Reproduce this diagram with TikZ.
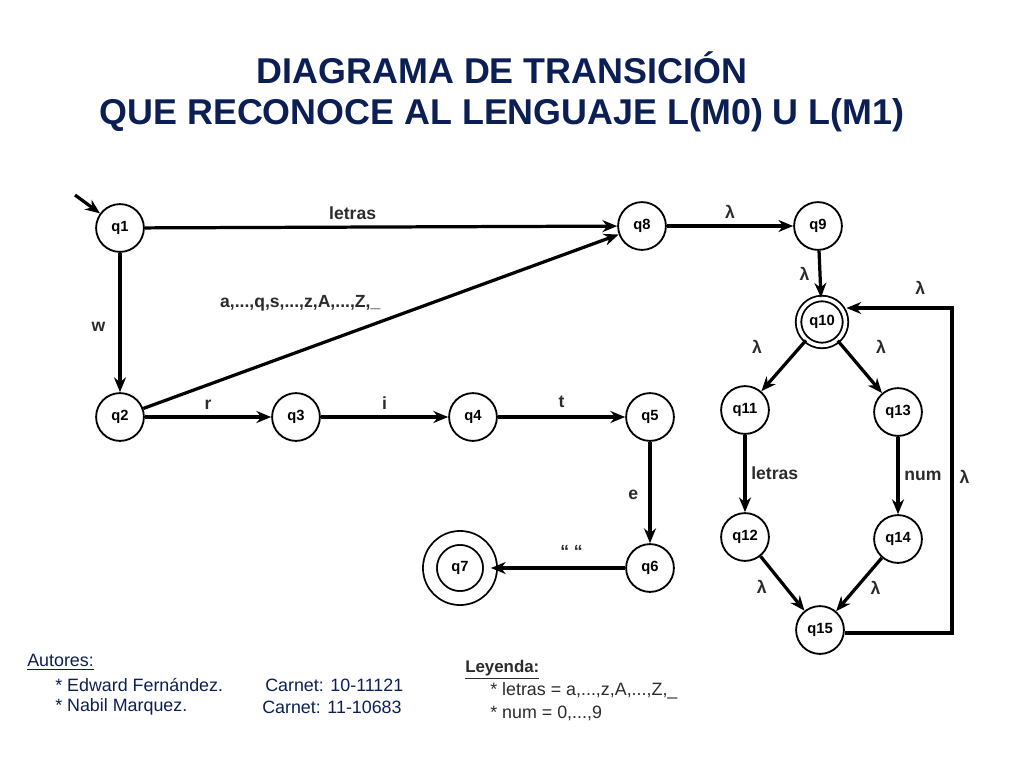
\documentclass[tikz,border=0pt]{standalone}
\usepackage{fontspec}
\setmainfont{Liberation Sans}
\usetikzlibrary{arrows.meta}
\definecolor{navy}{HTML}{0B1F55}
\definecolor{labelgray}{HTML}{2B2B2B}

\begin{document}
\begin{tikzpicture}[x=0.025cm, y=-0.025cm,
    state/.style={circle, draw, line width=1.3pt, minimum size=34pt, inner sep=0pt, font=\bfseries\fontsize{10.5}{12}\selectfont},
    final/.style={state, double, double distance=2.6pt, minimum size=33.4pt},
    bigfinal/.style={state, double, double distance=8.6pt, minimum size=42.7pt},
    trans/.style={line width=2.3pt, -{Stealth[length=10.5pt,width=8.5pt]}},
    lbl/.style={font=\bfseries\fontsize{12.5}{14}\selectfont, text=labelgray},
    txt/.style={anchor=west, inner sep=0pt, font=\fontsize{12.7}{15}\selectfont}]
    \useasboundingbox (0,0) rectangle (1024,768);

    % title
    \node[align=center, text=navy, font=\bfseries\fontsize{25.5}{29}\selectfont] (title) at (502,92)
        {DIAGRAMA DE TRANSICIÓN\\QUE RECONOCE AL LENGUAJE L(M0) U L(M1)};

    % states
    \node[state] (q1) at (120,228) {q1};
    \node[state] (q8) at (642,226) {q8};
    \node[state] (q9) at (818,226) {q9};
    \node[final] (q10) at (822,322) {q10};
    \node[state] (q2) at (120,417) {q2};
    \node[state] (q3) at (296,417) {q3};
    \node[state] (q4) at (473,417) {q4};
    \node[state] (q5) at (650,417) {q5};
    \node[state] (q6) at (650,568) {q6};
    \node[bigfinal] (q7) at (460,568) {q7};
    \node[state] (q11) at (745,410) {q11};
    \node[state] (q13) at (898,412) {q13};
    \node[state] (q12) at (745,537) {q12};
    \node[state] (q14) at (898,539) {q14};
    \node[state] (q15) at (820,630) {q15};
    \coordinate (start) at (75,195);
    \coordinate (loopb) at (952,633);
    \coordinate (loopt) at (952,308);

    % transitions
    \draw[trans] (start) -- (q1);
    \draw[trans] (q1) -- node[lbl, pos=0.44, above=1pt] {letras} (q8);
    \draw[trans] (q1) -- node[lbl, pos=0.53, left=6pt] {w} (q2);
    \draw[trans] (q2) -- node[lbl, pos=0.33, above=24pt] {a,...,q,s,...,z,A,...,Z,\_} (q8);
    \draw[trans] (q2) -- node[lbl, above=1pt] {r} (q3);
    \draw[trans] (q3) -- node[lbl, above=1pt] {i} (q4);
    \draw[trans] (q4) -- node[lbl, above=2pt] {t} (q5);
    \draw[trans] (q5) -- node[lbl, pos=0.52, left=4pt] {e} (q6);
    \draw[trans] (q6) -- node[lbl, pos=0.4, above=3pt] {“ “} (q7);
    \draw[trans] (q8) -- node[lbl, above=1pt] {λ} (q9);
    \draw[trans] (q9) -- node[lbl, left=3pt] {λ} (q10);
    \draw[trans] (q10) -- node[lbl, pos=0.12, left=23pt] {λ} (q11);
    \draw[trans] (q10) -- node[lbl, pos=0.12, right=19pt] {λ} (q13);
    \draw[trans] (q11) -- node[lbl, right=0pt] {letras} (q12);
    \draw[trans] (q13) -- node[lbl, right=0pt] {num} (q14);
    \draw[trans] (q12) -- node[lbl, pos=0.57, left=9pt] {λ} (q15);
    \draw[trans] (q14) -- node[lbl, pos=0.57, right=6pt] {λ} (q15);
    \draw[trans] (q15.east |- loopb) -- (loopb) -- node[lbl, pos=0.48, right=1pt] {λ} (loopt)
        -- node[lbl, pos=0.3, above=5pt] {λ} (q10.east |- loopt);

    % authors and legend
    \node[txt, text=navy] (autores) at (27,662) {\underline{Autores:}};
    \node[txt, text=navy] (aut1) at (55,685) {* Edward Fernández.};
    \node[txt, text=navy] (car1) at (265,685) {Carnet: 10-11121};
    \node[txt, text=navy] (aut2) at (55,707) {* Nabil Marquez.};
    \node[txt, text=navy] (car2) at (262,707) {Carnet: 11-10683};
    \node[txt, text=labelgray, font=\bfseries\fontsize{12}{14}\selectfont] (ley) at (465,670) {\underline{Leyenda:}};
    \node[txt, text=labelgray] (ley1) at (490,691) {* letras = a,...,z,A,...,Z,\_};
    \node[txt, text=labelgray] (ley2) at (490,713) {* num = 0,...,9};
\end{tikzpicture}
\end{document}
